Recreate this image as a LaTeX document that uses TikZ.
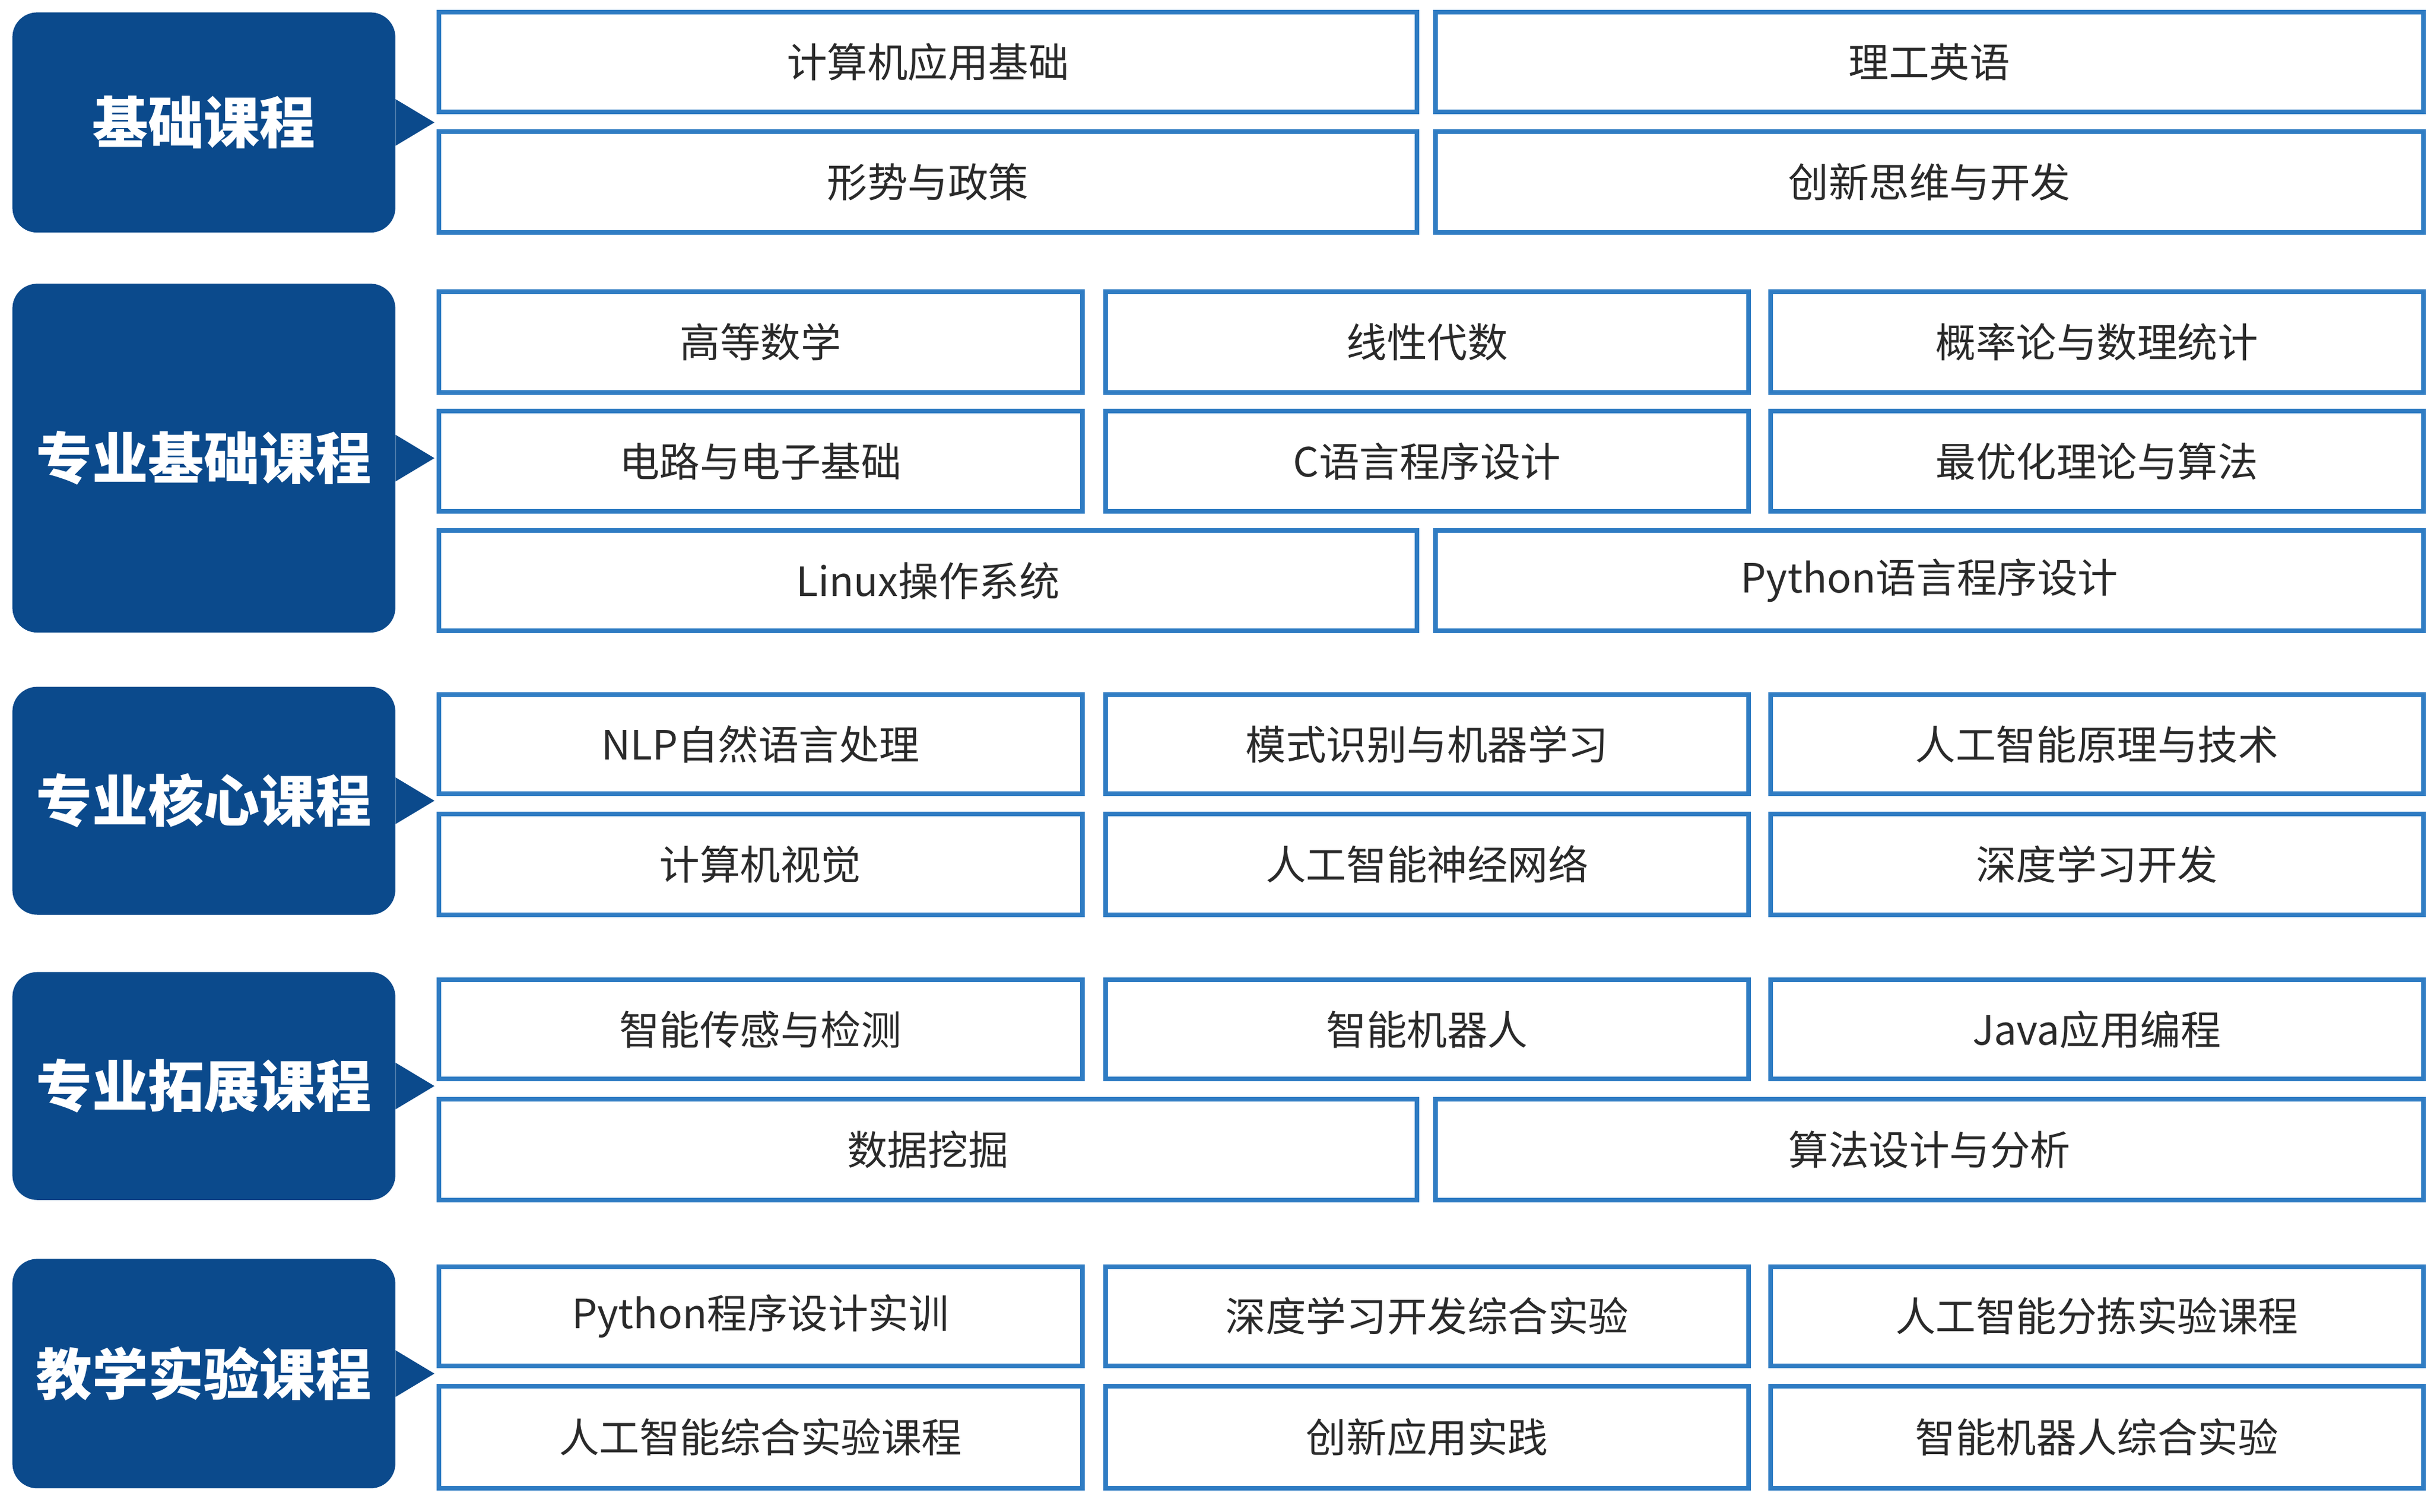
\documentclass[tikz,border=0pt]{standalone}
\usepackage{fontspec}
\setmainfont{Noto Sans CJK SC}
\definecolor{dkb}{HTML}{0B4A8C}
\definecolor{lnb}{HTML}{2F7CC3}
\definecolor{txt}{HTML}{2A2A2A}
\tikzset{
 cb/.style={draw=lnb,line width=3pt,fill=white,inner sep=0pt,text=txt,font=\fontsize{26}{30}\selectfont},
 hb/.style={fill=dkb,rounded corners=16pt,inner sep=0pt,text=white,font=\fontsize{36}{40}\selectfont\bfseries}
}
\newcommand\cbox[6]{\node[cb,minimum width={#4pt-#2pt},minimum height={#5pt-#3pt}] (#1) at ({(#2+#4)/2},{(#3+#5)/2}) {#6};}
\newcommand\head[4]{%
 \node[hb,minimum width=247pt,minimum height={#3pt-#2pt}] (#1) at (131.5,{(#2+#3)/2}) {#4};
 \fill[dkb] (#1.east) ++(0,-15) -- ++(25,15) -- ++(-25,15) -- cycle;}
\begin{document}
\begin{tikzpicture}[x=1pt,y=-1pt]
\useasboundingbox (0,0) rectangle (1568,975);
\head{h1}{8}{150}{基础课程}
\cbox{a1}{283}{8}{914}{72}{计算机应用基础}
\cbox{a2}{926}{8}{1563}{72}{理工英语}
\cbox{a3}{283}{85}{914}{150}{形势与政策}
\cbox{a4}{926}{85}{1563}{150}{创新思维与开发}
\head{h2}{183}{408}{专业基础课程}
\cbox{b1}{283}{188}{698}{253}{高等数学}
\cbox{b2}{713}{188}{1128}{253}{线性代数}
\cbox{b3}{1142}{188}{1563}{253}{概率论与数理统计}
\cbox{b4}{283}{265}{698}{330}{电路与电子基础}
\cbox{b5}{713}{265}{1128}{330}{C语言程序设计}
\cbox{b6}{1142}{265}{1563}{330}{最优化理论与算法}
\cbox{b7}{283}{342}{914}{407}{Linux操作系统}
\cbox{b8}{926}{342}{1563}{407}{Python语言程序设计}
\head{h3}{443}{590}{专业核心课程}
\cbox{c1}{283}{448}{698}{512}{NLP自然语言处理}
\cbox{c2}{713}{448}{1128}{512}{模式识别与机器学习}
\cbox{c3}{1142}{448}{1563}{512}{人工智能原理与技术}
\cbox{c4}{283}{525}{698}{590}{计算机视觉}
\cbox{c5}{713}{525}{1128}{590}{人工智能神经网络}
\cbox{c6}{1142}{525}{1563}{590}{深度学习开发}
\head{h4}{627}{774}{专业拓展课程}
\cbox{d1}{283}{632}{698}{696}{智能传感与检测}
\cbox{d2}{713}{632}{1128}{696}{智能机器人}
\cbox{d3}{1142}{632}{1563}{696}{Java应用编程}
\cbox{d4}{283}{709}{914}{774}{数据挖掘}
\cbox{d5}{926}{709}{1563}{774}{算法设计与分析}
\head{h5}{812}{960}{教学实验课程}
\cbox{e1}{283}{817}{698}{881}{Python程序设计实训}
\cbox{e2}{713}{817}{1128}{881}{深度学习开发综合实验}
\cbox{e3}{1142}{817}{1563}{881}{人工智能分拣实验课程}
\cbox{e4}{283}{894}{698}{960}{人工智能综合实验课程}
\cbox{e5}{713}{894}{1128}{960}{创新应用实践}
\cbox{e6}{1142}{894}{1563}{960}{智能机器人综合实验}
\end{tikzpicture}
\end{document}
